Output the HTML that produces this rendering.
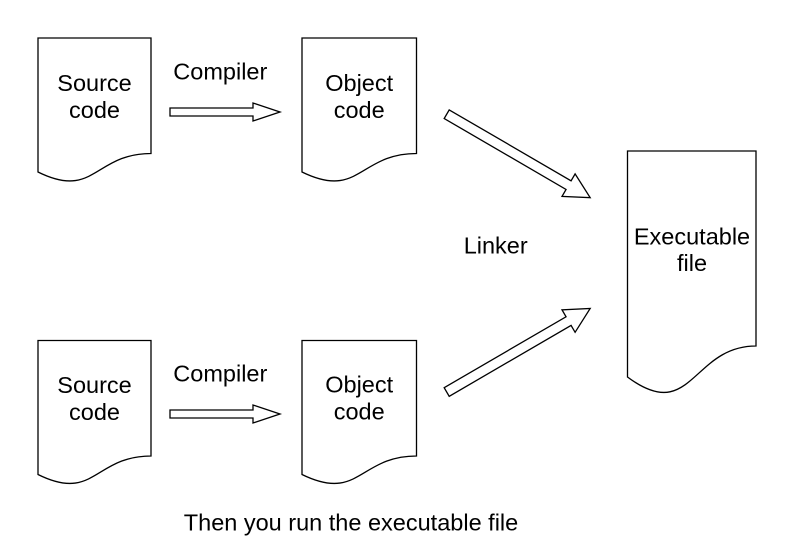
<!DOCTYPE html>
<html>
<head>
<meta charset="utf-8">
<style>
html,body{margin:0;padding:0;background:#fff;}
svg{display:block;}
text{font-family:"Liberation Sans",Arial,sans-serif;font-size:23.5px;fill:#000;}
</style>
</head>
<body>
<svg width="794" height="558" viewBox="0 0 794 558" xmlns="http://www.w3.org/2000/svg">
<g fill="#fff" stroke="#000" stroke-width="1.3" stroke-linejoin="miter">
  <!-- Source 1 -->
  <path d="M38,38 H151 V153.5 C94.5,153.5 94.5,200 38,172 Z"/>
  <!-- Object 1 -->
  <path d="M302,38 H416.5 V153.5 C359.25,153.5 359.25,200 302,172 Z"/>
  <!-- Source 2 -->
  <path d="M38,340.5 H151 V456 C94.5,456 94.5,502.5 38,474.5 Z"/>
  <!-- Object 2 -->
  <path d="M302,340.5 H416.5 V456 C359.25,456 359.25,502.5 302,474.5 Z"/>
  <!-- Executable -->
  <path d="M627.5,151 H756 V346 C691.75,346 691.75,425 627.5,377 Z"/>

  <!-- horizontal arrows -->
  <polygon points="170,108 253,108 253,103 280,112 253,121 253,116 170,116"/>
  <polygon points="170,410 253,410 253,405 280,414 253,423 253,418 170,418"/>

  <!-- diagonal arrows -->
  <polygon transform="translate(446.7,114.2) rotate(30.2)" points="0,-5 141,-5 141,-13 166,0 141,13 141,5 0,5"/>
  <polygon transform="translate(446.7,392) rotate(-30.2)" points="0,-5 141,-5 141,-13 166,0 141,13 141,5 0,5"/>
</g>

<g text-anchor="middle">
  <text x="94.5" y="91">Source</text>
  <text x="94.5" y="118">code</text>
  <text x="359.2" y="91">Object</text>
  <text x="359.2" y="118">code</text>
  <text x="220.3" y="79.3">Compiler</text>

  <text x="94.5" y="393">Source</text>
  <text x="94.5" y="420">code</text>
  <text x="359.2" y="392.5">Object</text>
  <text x="359.2" y="419.5">code</text>
  <text x="220.3" y="381.7">Compiler</text>

  <text x="495.7" y="253.3">Linker</text>
  <text x="692" y="244.3">Executable</text>
  <text x="692" y="271">file</text>

  <text x="351" y="530.7">Then you run the executable file</text>
</g>
</svg>
</body>
</html>
